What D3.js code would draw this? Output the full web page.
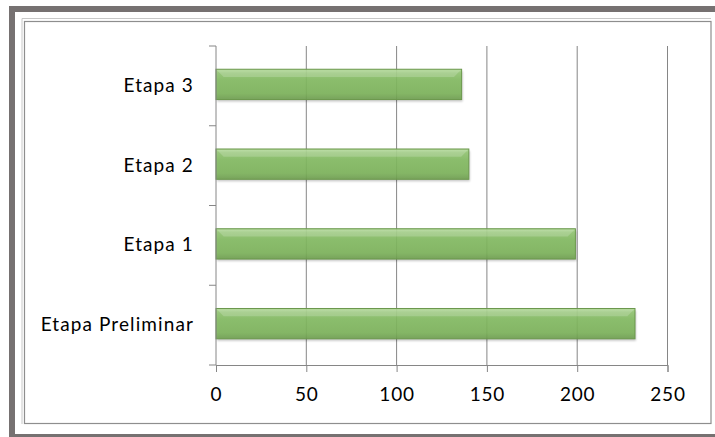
<!DOCTYPE html>
<html>
<head>
<meta charset="utf-8">
<script src="https://cdn.jsdelivr.net/npm/d3@7"></script>
<style>
  html, body { margin: 0; padding: 0; background: #fff; }
  svg { display: block; }
  text { font-family: Lato, "Open Sans", sans-serif; fill: #000; }
</style>
</head>
<body>
<svg id="svg"></svg>
<script>
// datos
var categories = ['Etapa Preliminar', 'Etapa 1', 'Etapa 2', 'Etapa 3'];
var values = [232, 199, 140, 136];
var xTicks = [0, 50, 100, 150, 200, 250];

var width = 715, height = 437;
var plot = { left: 216, right: 667.5, top: 46, bottom: 365 };

var s = d3.select('#svg').attr('width', width).attr('height', height);

// marco exterior
s.append('rect')
  .attr('x', 12).attr('y', 9)
  .attr('width', 710).attr('height', 428)
  .attr('fill', 'none').attr('stroke', '#767171').attr('stroke-width', 6);

// borde del grafico
s.append('path')
  .attr('d', 'M22,424 V18.5 H711')
  .attr('fill', 'none').attr('stroke', '#c8c8c8').attr('stroke-width', 1);
s.append('rect')
  .attr('x', 24.5).attr('y', 21.5)
  .attr('width', 686.5).attr('height', 402)
  .attr('fill', 'none').attr('stroke', '#8e8e8e').attr('stroke-width', 1.2);

var defs = s.append('defs');
var grad = defs.append('linearGradient')
  .attr('id', 'barGrad').attr('x1', 0).attr('y1', 0).attr('x2', 0).attr('y2', 1);
grad.append('stop').attr('offset', '0%').attr('stop-color', '#a9d48c');
grad.append('stop').attr('offset', '12%').attr('stop-color', '#93c673');
grad.append('stop').attr('offset', '35%').attr('stop-color', '#84bc62');
grad.append('stop').attr('offset', '80%').attr('stop-color', '#7db45b');
grad.append('stop').attr('offset', '100%').attr('stop-color', '#6f9f50');

defs.append('filter').attr('id', 'shadow')
  .attr('x', '-5%').attr('y', '-20%').attr('width', '110%').attr('height', '150%')
  .append('feGaussianBlur').attr('stdDeviation', 1.2);

// escalas
var scaleX = d3.scaleLinear()
  .domain([0, 250])
  .range([plot.left, plot.right]);

var order = categories.slice().reverse();
var scaleY = d3.scaleBand()
  .domain(order)
  .range([plot.top, plot.bottom]);

var scaleBar = d3.scaleBand()
  .domain(order)
  .range([plot.top, plot.bottom])
  .paddingInner(0.62)
  .paddingOuter(0.31)
  .align(0.47);

var g = s.append('g');

// lineas de cuadricula
g.selectAll('line.grid')
  .data(xTicks.filter(function (d) { return d > 0; }))
  .enter()
  .append('line')
  .attr('x1', function (d) { return scaleX(d); })
  .attr('x2', function (d) { return scaleX(d); })
  .attr('y1', plot.top)
  .attr('y2', plot.bottom)
  .attr('stroke', '#868686')
  .attr('stroke-width', 1);

// barras
var data = categories.map(function (c, i) { return { title: c, count: values[i] }; });

var bars = g.selectAll('g.bar')
  .data(data)
  .enter()
  .append('g');

bars.append('rect')
  .attr('x', scaleX(0) + 1)
  .attr('y', function (d) { return scaleBar(d.title) + 2; })
  .attr('width', function (d) { return scaleX(d.count) - scaleX(0); })
  .attr('height', scaleBar.bandwidth())
  .attr('fill', '#000').attr('opacity', 0.22)
  .attr('filter', 'url(#shadow)');

bars.append('rect')
  .attr('x', scaleX(0))
  .attr('y', function (d) { return scaleBar(d.title); })
  .attr('width', function (d) { return scaleX(d.count) - scaleX(0); })
  .attr('height', scaleBar.bandwidth())
  .attr('fill', 'url(#barGrad)')
  .attr('fill-opacity', 0.9)
  .attr('stroke', '#6b984c')
  .attr('stroke-width', 1);

// bisel superior
bars.append('path')
  .attr('d', function (d) {
    var x0 = scaleX(0) + 1, x1 = scaleX(d.count) - 1;
    var y0 = scaleBar(d.title) + 1, h = scaleBar.bandwidth() * 0.22;
    return 'M' + x0 + ',' + y0 + ' H' + x1 + ' L' + (x1 - h) + ',' + (y0 + h) +
      ' H' + (x0 + h) + ' Z';
  })
  .attr('fill', '#ffffff').attr('opacity', 0.18);

// eje X
var axisX = d3.axisBottom(scaleX).tickValues(xTicks).tickSize(7).tickPadding(16);
var gx = g.append('g')
  .attr('transform', 'translate(0,' + plot.bottom + ')')
  .call(axisX);
gx.select('.domain').attr('stroke', '#868686');
gx.selectAll('.tick line').attr('stroke', '#868686');
gx.selectAll('.tick text')
  .attr('font-size', 19).attr('fill', '#000')
  .style('font-family', 'Lato, "Open Sans", sans-serif')
  .attr('letter-spacing', 0.8);

// eje Y
var axisY = d3.axisLeft(scaleY).tickSize(0).tickPadding(22);
var gy = g.append('g')
  .attr('transform', 'translate(' + plot.left + ',0)')
  .call(axisY);
gy.select('.domain').attr('stroke', '#868686').attr('d', 'M0,' + plot.top + 'V' + plot.bottom);
gy.selectAll('.tick text')
  .attr('font-size', 19).attr('fill', '#000')
  .style('font-family', 'Lato, "Open Sans", sans-serif')
  .attr('letter-spacing', 1.1);

// marcas entre categorias
var bounds = order.map(function (c) { return scaleY(c); }).concat([plot.bottom]);
gy.selectAll('line.sep')
  .data(bounds)
  .enter()
  .append('line')
  .attr('x1', -7).attr('x2', 0)
  .attr('y1', function (d) { return d; })
  .attr('y2', function (d) { return d; })
  .attr('stroke', '#868686');
</script>
</body>
</html>
